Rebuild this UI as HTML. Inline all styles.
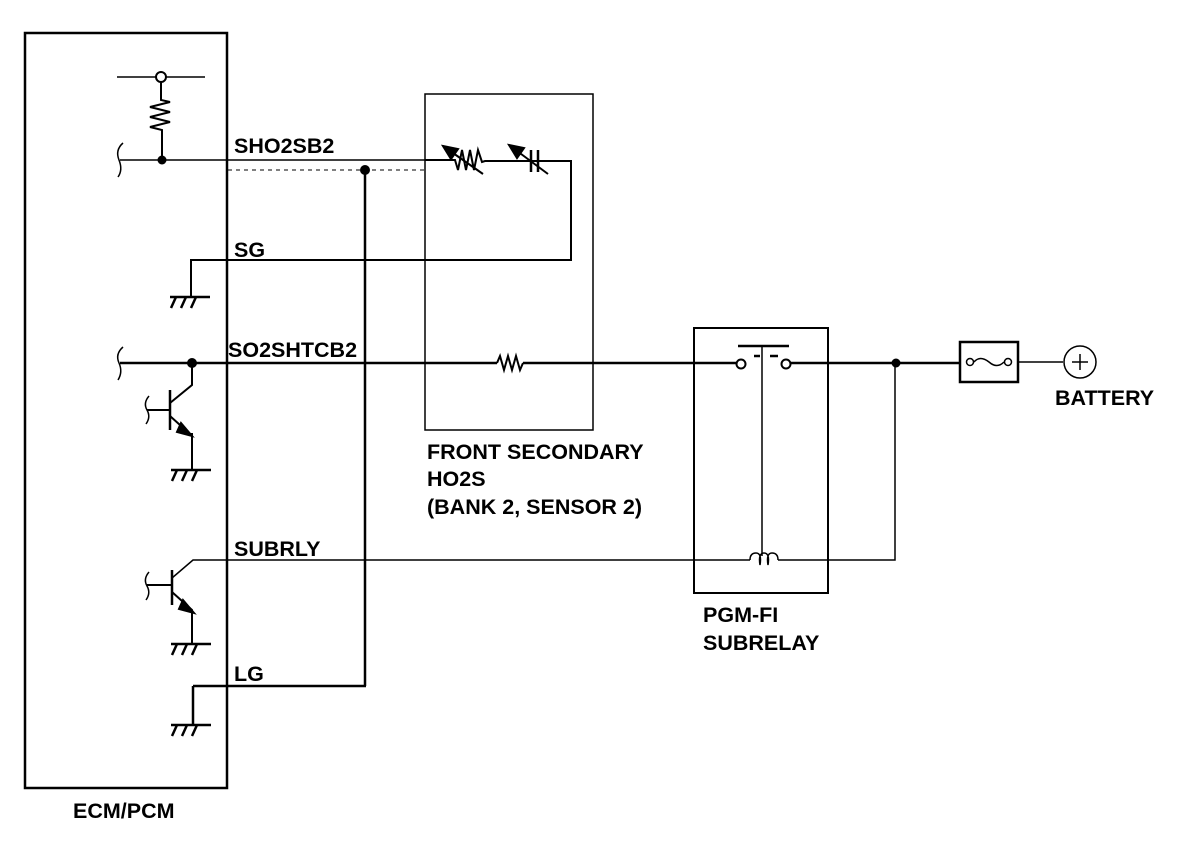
<!DOCTYPE html>
<html><head><style>
body{margin:0;background:#fff}
svg text{font-family:"Liberation Sans",Arial,sans-serif;font-weight:bold;font-size:21.5px;fill:#000}
</style></head><body>
<svg width="1200" height="842" viewBox="0 0 1200 842" xmlns="http://www.w3.org/2000/svg">
<g fill="none" stroke="#000" stroke-width="2">
<rect x="25" y="33" width="202" height="755" stroke-width="2.5"/>
<line x1="117" y1="77" x2="205" y2="77" stroke-width="1.5"/>
<circle cx="161" cy="77" r="5" fill="#fff"/>
<polyline points="161,82 161,100 170,102 150,107 170,112 150,117 170,122 150,127 162,130 162,160"/>
<path d="M123,143 Q115,150 119,160 Q123,170 118,177" stroke-width="1.5"/>
<line x1="120" y1="160" x2="425" y2="160" stroke-width="1.5"/>
<line x1="228" y1="170" x2="425" y2="170" stroke-dasharray="4,4" stroke-width="1"/>
<line x1="365" y1="170" x2="365" y2="686" stroke-width="2.5"/>
<line x1="193" y1="686" x2="366" y2="686" stroke-width="2.5"/>
<polyline points="193,686 193,725" stroke-width="2.5"/>
<rect x="425" y="94" width="168" height="336" stroke-width="1.5"/>
<polyline points="425,160 455,160 458,170 462,150 466,170 470,150 474,170 478,150 482,162 485,161 571,161 571,260 191,260 191,297"/>
<line x1="443" y1="146" x2="483" y2="174"/>
<polygon points="443,146 458,149 451,159" fill="#000"/>
<line x1="531" y1="150" x2="531" y2="172" stroke-width="2.5"/>
<line x1="538" y1="150" x2="538" y2="172" stroke-width="2.5"/>
<line x1="509" y1="145" x2="548" y2="174"/>
<polygon points="509,145 524,148 517,158" fill="#000"/>
<path d="M123,347 Q115,354 119,363 Q123,372 118,380" stroke-width="1.5"/>
<line x1="120" y1="363" x2="497" y2="363" stroke-width="2.5"/>
<polyline points="497,363 500,356 504,370 508,356 512,370 516,356 520,370 523,363" />
<line x1="523" y1="363" x2="737" y2="363" stroke-width="2.5"/>
<path d="M149,396 Q143,403 147,410 Q151,417 146,424" stroke-width="1.5"/>
<line x1="147" y1="410" x2="170" y2="410"/>
<line x1="170" y1="390" x2="170" y2="430" stroke-width="2.5"/>
<polyline points="170,403 192,385 192,363"/>
<polyline points="170,416 190,434 192,434 192,470"/>
<polygon points="181,423 192,436 177,432" fill="#000"/>
<path d="M149,572 Q143,579 147,586 Q151,593 146,600" stroke-width="1.5"/>
<line x1="147" y1="585" x2="172" y2="585"/>
<line x1="172" y1="570" x2="172" y2="605" stroke-width="2.5"/>
<polyline points="172,578 193,560 750,560" stroke-width="1.5"/>
<polyline points="172,592 192,610 192,644"/>
<polygon points="183,600 194,613 179,609" fill="#000"/>
<g stroke-width="2.5">
<line x1="170" y1="297" x2="210" y2="297"/><line x1="176" y1="297" x2="171" y2="308"/><line x1="186" y1="297" x2="181" y2="308"/><line x1="196" y1="297" x2="191" y2="308"/>
<line x1="171" y1="470" x2="211" y2="470"/><line x1="177" y1="470" x2="172" y2="481"/><line x1="187" y1="470" x2="182" y2="481"/><line x1="197" y1="470" x2="192" y2="481"/>
<line x1="171" y1="644" x2="211" y2="644"/><line x1="177" y1="644" x2="172" y2="655"/><line x1="187" y1="644" x2="182" y2="655"/><line x1="197" y1="644" x2="192" y2="655"/>
<line x1="171" y1="725" x2="211" y2="725"/><line x1="177" y1="725" x2="172" y2="736"/><line x1="187" y1="725" x2="182" y2="736"/><line x1="197" y1="725" x2="192" y2="736"/>
</g>
<rect x="694" y="328" width="134" height="265" stroke-width="2"/>
<circle cx="741" cy="364" r="4.5" fill="#fff"/>
<circle cx="786" cy="364" r="4.5" fill="#fff"/>
<line x1="738" y1="346" x2="789" y2="346" stroke-width="2.5"/>
<line x1="754" y1="356" x2="760" y2="356" stroke-width="2.5"/>
<line x1="770" y1="356" x2="778" y2="356" stroke-width="2.5"/>
<line x1="762" y1="346" x2="762" y2="556" stroke-width="1.5"/>
<path d="M750,560 Q750,553 756,553 Q762,553 760,565 Q758,553 764,553 Q770,553 768,565 Q766,553 772,553 Q778,553 778,560" stroke-width="1.5"/>
<polyline points="778,560 895,560 895,363" stroke-width="1.5"/>
<line x1="791" y1="363" x2="960" y2="363" stroke-width="2.5"/>
<rect x="960" y="342" width="58" height="40" stroke-width="2.5"/>
<circle cx="970" cy="362" r="3.5" fill="#fff" stroke-width="1.5"/>
<circle cx="1008" cy="362" r="3.5" fill="#fff" stroke-width="1.5"/>
<path d="M974,362 Q980,355 989,362 Q997,369 1004,362" stroke-width="1.5"/>
<line x1="1018" y1="362" x2="1063" y2="362" stroke-width="1.5"/>
<circle cx="1080" cy="362" r="16" stroke-width="1.5"/>
<line x1="1072" y1="362" x2="1088" y2="362" stroke-width="1.5"/><line x1="1080" y1="354" x2="1080" y2="370" stroke-width="1.5"/>
</g>
<g fill="#000">
<circle cx="162" cy="160" r="4.5"/>
<circle cx="365" cy="170" r="5"/>
<circle cx="192" cy="363" r="5"/>
<circle cx="896" cy="363" r="4.5"/>
</g>
<text x="234" y="153">SHO2SB2</text>
<text x="234" y="257">SG</text>
<text x="228" y="357">SO2SHTCB2</text>
<text x="234" y="556">SUBRLY</text>
<text x="234" y="681">LG</text>
<text x="73" y="818">ECM/PCM</text>
<text x="427" y="459">FRONT SECONDARY</text>
<text x="427" y="486">HO2S</text>
<text x="427" y="514">(BANK 2, SENSOR 2)</text>
<text x="703" y="622">PGM-FI</text>
<text x="703" y="650">SUBRELAY</text>
<text x="1055" y="405">BATTERY</text>
</svg>
</body></html>
